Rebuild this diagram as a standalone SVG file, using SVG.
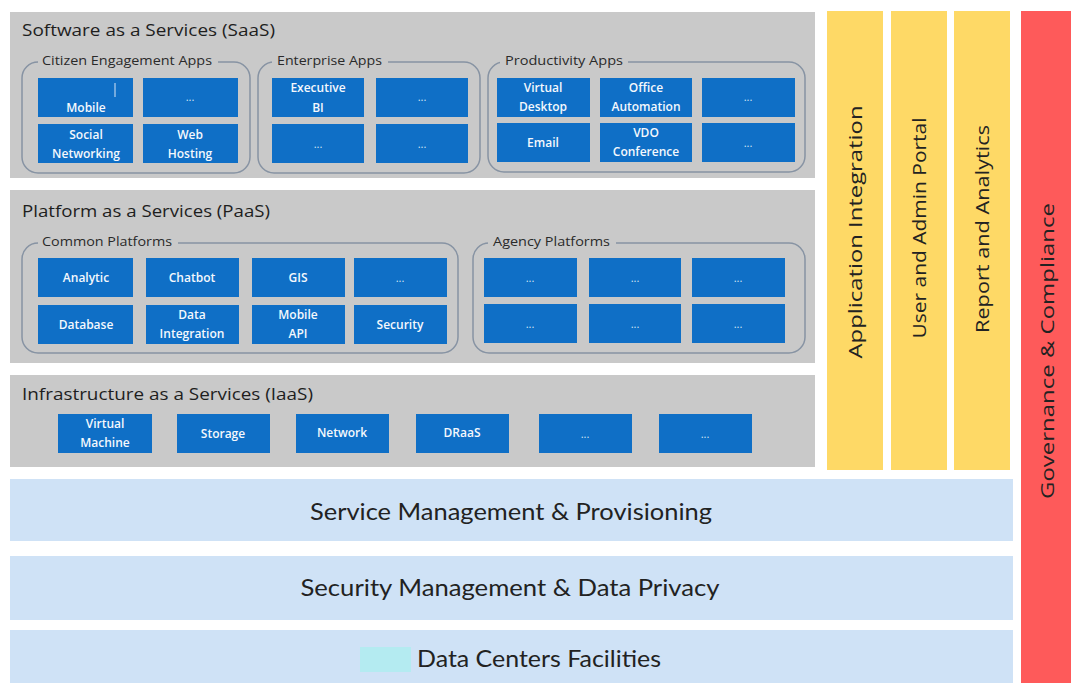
<svg xmlns="http://www.w3.org/2000/svg" width="1071" height="683" viewBox="0 0 1071 683">
<style>
.panel{fill:#c9c9c9}
.grp{fill:none;stroke:#8793a3;stroke-width:1.5}
.gap{fill:#c9c9c9}
.box{fill:#0f6fc6}
.bt{font-family:"Open Sans","Liberation Sans",sans-serif;font-size:12px;font-weight:600;fill:#f4f8fd;text-anchor:middle}
.dots{font-family:"Open Sans","Liberation Sans",sans-serif;font-size:11px;fill:#d9e6f5;text-anchor:middle}
.title{font-family:"Open Sans","Liberation Sans",sans-serif;font-size:17px;fill:#1e1e1e}
.glabel{font-family:"Open Sans","Liberation Sans",sans-serif;font-size:12px;fill:#2a2a2a}
.col{fill:#fed966}
.vt{font-family:"Open Sans","Liberation Sans",sans-serif;font-size:19px;fill:#222222;text-anchor:middle}
.band{fill:#cfe2f6}
.bandt{font-family:"Lato","Liberation Sans",sans-serif;font-size:24px;fill:#222222;text-anchor:middle}
</style>
<rect width="1071" height="683" fill="#ffffff"/>

<!-- SaaS -->
<g id="saas">
<rect class="panel" x="10" y="12" width="805" height="166"/>
<text class="title" x="22" y="36" textLength="253" lengthAdjust="spacingAndGlyphs">Software as a Services (SaaS)</text>
</g>
<g id="citizen-apps">
<rect class="grp" x="22" y="62" width="228" height="111" rx="16"/>
<rect class="gap" x="38" y="54" width="180" height="14"/>
<text class="glabel" x="42" y="65" textLength="170" lengthAdjust="spacingAndGlyphs">Citizen Engagement Apps</text>
<g id="mobile"><rect class="box" x="38" y="78" width="95" height="39"/><line x1="115" y1="83" x2="115" y2="97" stroke="#d9e6f5" stroke-width="1"/><text class="bt" x="86" y="112">Mobile</text></g>
<g id="citizen-more"><rect class="box" x="143" y="78" width="95" height="39"/><text class="dots" x="190" y="101">...</text></g>
<g id="social"><rect class="box" x="38" y="124" width="95" height="39"/><text class="bt" x="86" y="139">Social</text><text class="bt" x="86" y="158">Networking</text></g>
<g id="webhosting"><rect class="box" x="143" y="124" width="95" height="39"/><text class="bt" x="190" y="139">Web</text><text class="bt" x="190" y="158">Hosting</text></g>
</g>
<g id="enterprise-apps">
<rect class="grp" x="258" y="62" width="222" height="111" rx="16"/>
<rect class="gap" x="272" y="54" width="116" height="14"/>
<text class="glabel" x="277" y="65" textLength="105" lengthAdjust="spacingAndGlyphs">Enterprise Apps</text>
<g id="execbi"><rect class="box" x="272" y="78" width="92" height="39"/><text class="bt" x="318" y="92">Executive</text><text class="bt" x="318" y="112">BI</text></g>
<g id="ent-more1"><rect class="box" x="376" y="78" width="92" height="39"/><text class="dots" x="422" y="101">...</text></g>
<g id="ent-more2"><rect class="box" x="272" y="124" width="92" height="39"/><text class="dots" x="318" y="148">...</text></g>
<g id="ent-more3"><rect class="box" x="376" y="124" width="92" height="39"/><text class="dots" x="422" y="148">...</text></g>
</g>
<g id="productivity-apps">
<rect class="grp" x="488" y="62" width="317" height="110" rx="16"/>
<rect class="gap" x="500" y="54" width="128" height="14"/>
<text class="glabel" x="505" y="65" textLength="118" lengthAdjust="spacingAndGlyphs">Productivity Apps</text>
<g id="vdesktop"><rect class="box" x="497" y="78" width="93" height="39"/><text class="bt" x="543" y="92">Virtual</text><text class="bt" x="543" y="111">Desktop</text></g>
<g id="officeauto"><rect class="box" x="600" y="78" width="92" height="39"/><text class="bt" x="646" y="92">Office</text><text class="bt" x="646" y="111">Automation</text></g>
<g id="prod-more1"><rect class="box" x="702" y="78" width="93" height="39"/><text class="dots" x="748" y="101">...</text></g>
<g id="email"><rect class="box" x="497" y="123" width="93" height="39"/><text class="bt" x="543" y="147">Email</text></g>
<g id="vdo"><rect class="box" x="600" y="123" width="92" height="39"/><text class="bt" x="646" y="137">VDO</text><text class="bt" x="646" y="156">Conference</text></g>
<g id="prod-more2"><rect class="box" x="702" y="123" width="93" height="39"/><text class="dots" x="748" y="147">...</text></g>
</g>

<!-- PaaS -->
<g id="paas">
<rect class="panel" x="10" y="190" width="805" height="173"/>
<text class="title" x="22" y="217" textLength="248" lengthAdjust="spacingAndGlyphs">Platform as a Services (PaaS)</text>
</g>
<g id="common-platforms">
<rect class="grp" x="22" y="243" width="436" height="110" rx="16"/>
<rect class="gap" x="38" y="235" width="140" height="14"/>
<text class="glabel" x="42" y="246" textLength="130" lengthAdjust="spacingAndGlyphs">Common Platforms</text>
<g id="analytic"><rect class="box" x="38" y="258" width="95" height="39"/><text class="bt" x="86" y="282">Analytic</text></g>
<g id="chatbot"><rect class="box" x="146" y="258" width="93" height="39"/><text class="bt" x="192" y="282">Chatbot</text></g>
<g id="gis"><rect class="box" x="252" y="258" width="93" height="39"/><text class="bt" x="298" y="282">GIS</text></g>
<g id="common-more"><rect class="box" x="354" y="258" width="93" height="39"/><text class="dots" x="400" y="282">...</text></g>
<g id="database"><rect class="box" x="38" y="305" width="95" height="39"/><text class="bt" x="86" y="329">Database</text></g>
<g id="dataint"><rect class="box" x="146" y="305" width="93" height="39"/><text class="bt" x="192" y="319">Data</text><text class="bt" x="192" y="338">Integration</text></g>
<g id="mobileapi"><rect class="box" x="252" y="305" width="93" height="39"/><text class="bt" x="298" y="319">Mobile</text><text class="bt" x="298" y="338">API</text></g>
<g id="security"><rect class="box" x="354" y="305" width="93" height="39"/><text class="bt" x="400" y="329">Security</text></g>
</g>
<g id="agency-platforms">
<rect class="grp" x="473" y="243" width="332" height="110" rx="16"/>
<rect class="gap" x="488" y="235" width="128" height="14"/>
<text class="glabel" x="493" y="246" textLength="117" lengthAdjust="spacingAndGlyphs">Agency Platforms</text>
<g id="ag1"><rect class="box" x="484" y="258" width="93" height="39"/><text class="dots" x="530" y="282">...</text></g>
<g id="ag2"><rect class="box" x="589" y="258" width="92" height="39"/><text class="dots" x="635" y="282">...</text></g>
<g id="ag3"><rect class="box" x="692" y="258" width="93" height="39"/><text class="dots" x="738" y="282">...</text></g>
<g id="ag4"><rect class="box" x="484" y="304" width="93" height="39"/><text class="dots" x="530" y="328">...</text></g>
<g id="ag5"><rect class="box" x="589" y="304" width="92" height="39"/><text class="dots" x="635" y="328">...</text></g>
<g id="ag6"><rect class="box" x="692" y="304" width="93" height="39"/><text class="dots" x="738" y="328">...</text></g>
</g>

<!-- IaaS -->
<g id="iaas">
<rect class="panel" x="10" y="375" width="805" height="92"/>
<text class="title" x="22" y="400" textLength="291" lengthAdjust="spacingAndGlyphs">Infrastructure as a Services (IaaS)</text>
<g id="vm"><rect class="box" x="58" y="414" width="94" height="39"/><text class="bt" x="105" y="428">Virtual</text><text class="bt" x="105" y="447">Machine</text></g>
<g id="storage"><rect class="box" x="177" y="414" width="93" height="39"/><text class="bt" x="223" y="438">Storage</text></g>
<g id="network"><rect class="box" x="296" y="414" width="93" height="39"/><text class="bt" x="342" y="437">Network</text></g>
<g id="draas"><rect class="box" x="416" y="414" width="93" height="39"/><text class="bt" x="462" y="437">DRaaS</text></g>
<g id="iaas-more1"><rect class="box" x="539" y="414" width="93" height="39"/><text class="dots" x="585" y="438">...</text></g>
<g id="iaas-more2"><rect class="box" x="659" y="414" width="93" height="39"/><text class="dots" x="705" y="438">...</text></g>
</g>

<!-- vertical columns -->
<g id="app-integration"><rect class="col" x="827" y="11" width="56" height="459"/><text class="vt" transform="translate(862 232) rotate(-90)" textLength="253" lengthAdjust="spacingAndGlyphs">Application Integration</text></g>
<g id="user-admin-portal"><rect class="col" x="891" y="11" width="56" height="459"/><text class="vt" transform="translate(926 228) rotate(-90)" textLength="221" lengthAdjust="spacingAndGlyphs">User and Admin Portal</text></g>
<g id="report-analytics"><rect class="col" x="954" y="11" width="56" height="459"/><text class="vt" transform="translate(989 229) rotate(-90)" textLength="208" lengthAdjust="spacingAndGlyphs">Report and Analytics</text></g>
<g id="governance"><rect x="1021" y="11" width="50" height="672" fill="#fe5a5a"/><text class="vt" transform="translate(1054 351) rotate(-90)" textLength="296" lengthAdjust="spacingAndGlyphs">Governance &amp; Compliance</text></g>

<!-- horizontal bands -->
<g id="service-mgmt"><rect class="band" x="10" y="479" width="1003" height="62"/><text class="bandt" x="511" y="520" textLength="402" lengthAdjust="spacingAndGlyphs">Service Management &amp; Provisioning</text></g>
<g id="security-mgmt"><rect class="band" x="10" y="556" width="1003" height="64"/><text class="bandt" x="510" y="596" textLength="419" lengthAdjust="spacingAndGlyphs">Security  Management &amp; Data Privacy</text></g>
<g id="datacenters"><rect class="band" x="10" y="630" width="1003" height="53"/><rect x="360" y="647" width="51" height="25" fill="#b4ebf1"/><text class="bandt" x="539" y="667" textLength="244" lengthAdjust="spacingAndGlyphs">Data Centers Facilities</text></g>

<g id="connectors"/>
</svg>
